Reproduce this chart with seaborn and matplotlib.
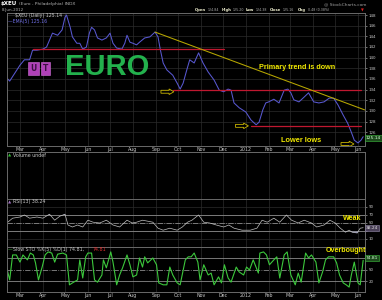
import numpy as np
import pandas as pd
import matplotlib
matplotlib.use("Agg")
import matplotlib.pyplot as plt
import matplotlib.dates as mdates
import matplotlib.patches as mpatches
import seaborn as sns

# ---------------- data ----------------
price_dates = ["2011-02-11", "2011-02-15", "2011-03-01", "2011-03-07", "2011-03-14", "2011-03-18",
               "2011-03-24", "2011-04-01", "2011-04-06", "2011-04-14", "2011-04-21", "2011-04-27",
               "2011-05-01", "2011-05-03", "2011-05-08", "2011-05-11", "2011-05-17", "2011-05-21",
               "2011-05-25", "2011-05-30", "2011-06-03", "2011-06-06", "2011-06-10", "2011-06-14",
               "2011-06-20", "2011-06-26", "2011-07-01", "2011-07-05", "2011-07-10", "2011-07-17",
               "2011-07-21", "2011-07-24", "2011-07-28", "2011-08-01", "2011-08-06", "2011-08-10",
               "2011-08-17", "2011-08-24", "2011-08-31", "2011-09-04", "2011-09-07", "2011-09-11",
               "2011-09-16", "2011-09-24", "2011-09-30", "2011-10-04", "2011-10-08", "2011-10-13",
               "2011-10-17", "2011-10-23", "2011-10-29", "2011-11-04", "2011-11-11", "2011-11-19",
               "2011-11-26", "2011-12-02", "2011-12-08", "2011-12-12", "2011-12-16", "2011-12-23",
               "2012-01-01", "2012-01-08", "2012-01-15", "2012-01-19", "2012-01-24", "2012-01-28",
               "2012-02-01", "2012-02-08", "2012-02-15", "2012-02-22", "2012-02-27", "2012-03-02",
               "2012-03-06", "2012-03-13", "2012-03-20", "2012-03-26", "2012-04-02", "2012-04-09",
               "2012-04-16", "2012-04-23", "2012-04-29", "2012-05-05", "2012-05-12", "2012-05-18",
               "2012-05-23", "2012-05-27", "2012-06-01", "2012-06-05", "2012-06-08"]
price_values = [136.2, 135.6, 138.6, 139.6, 139.6, 141.4,
                141.4, 141.6, 142.0, 144.6, 144.2, 145.2,
                147.6, 148.0, 145.7, 143.9, 142.7, 142.7,
                141.6, 142.0, 144.6, 145.7, 145.2, 143.7,
                143.3, 143.7, 144.6, 142.7, 141.8, 141.6,
                142.7, 144.2, 142.9, 142.7, 142.4, 142.9,
                143.7, 143.9, 144.8, 143.9, 141.6, 139.0,
                137.7, 136.7, 135.2, 134.1, 135.2, 137.7,
                139.6, 139.0, 140.9, 139.0, 137.3, 135.8,
                133.9, 133.6, 134.1, 133.9, 131.5, 130.6,
                129.8, 128.3, 127.4, 127.9, 130.2, 131.5,
                131.7, 132.2, 131.5, 133.9, 134.1, 133.4,
                132.1, 131.7, 132.6, 133.4, 131.7, 131.5,
                131.7, 132.4, 132.4, 131.1, 129.2, 127.7,
                126.0, 124.5, 124.0, 124.5, 125.16]

rsi_dates = ["2011-02-11", "2011-02-19", "2011-03-01", "2011-03-07", "2011-03-14", "2011-03-24",
             "2011-04-01", "2011-04-10", "2011-04-17", "2011-04-24", "2011-05-01", "2011-05-05",
             "2011-05-11", "2011-05-18", "2011-05-25", "2011-06-01", "2011-06-08", "2011-06-17",
             "2011-06-26", "2011-07-05", "2011-07-14", "2011-07-24", "2011-07-31", "2011-08-06",
             "2011-08-14", "2011-08-28", "2011-09-04", "2011-09-11", "2011-09-20", "2011-09-30",
             "2011-10-07", "2011-10-14", "2011-10-20", "2011-10-29", "2011-11-05", "2011-11-13",
             "2011-11-22", "2011-12-02", "2011-12-09", "2011-12-16", "2011-12-27", "2012-01-07",
             "2012-01-16", "2012-01-23", "2012-01-30", "2012-02-08", "2012-02-16", "2012-02-25",
             "2012-03-03", "2012-03-12", "2012-03-20", "2012-03-30", "2012-04-06", "2012-04-16",
             "2012-04-24", "2012-05-01", "2012-05-08", "2012-05-15", "2012-05-20", "2012-05-24",
             "2012-05-31", "2012-06-04", "2012-06-08"]
rsi_values = [50, 62, 65, 70, 62, 65,
              62, 72, 57, 67, 72, 45,
              40, 45, 40, 57, 52, 50,
              57, 45, 40, 57, 50, 52,
              57, 52, 37, 32, 37, 32,
              40, 52, 57, 70, 52, 50,
              45, 40, 45, 37, 32, 32,
              37, 57, 52, 62, 52, 70,
              57, 50, 57, 50, 40, 45,
              57, 50, 37, 27, 32, 27,
              25, 37, 38.24]

sto_dates = ["2011-02-11", "2011-02-15", "2011-02-19", "2011-02-24", "2011-03-01", "2011-03-05",
             "2011-03-11", "2011-03-15", "2011-03-19", "2011-03-22", "2011-03-26", "2011-03-31",
             "2011-04-04", "2011-04-08", "2011-04-13", "2011-04-17", "2011-04-21", "2011-04-28",
             "2011-05-03", "2011-05-07", "2011-05-11", "2011-05-18", "2011-05-21", "2011-05-25",
             "2011-05-29", "2011-06-01", "2011-06-06", "2011-06-10", "2011-06-14", "2011-06-20",
             "2011-06-22", "2011-06-26", "2011-07-02", "2011-07-05", "2011-07-10", "2011-07-14",
             "2011-07-18", "2011-07-24", "2011-07-28", "2011-08-01", "2011-08-06", "2011-08-10",
             "2011-08-14", "2011-08-17", "2011-08-21", "2011-08-28", "2011-09-02", "2011-09-05",
             "2011-09-11", "2011-09-16", "2011-09-20", "2011-09-24", "2011-09-30", "2011-10-04",
             "2011-10-11", "2011-10-15", "2011-10-19", "2011-10-23", "2011-10-28", "2011-10-31",
             "2011-11-05", "2011-11-11", "2011-11-15", "2011-11-19", "2011-11-25", "2011-11-29",
             "2011-12-03", "2011-12-08", "2011-12-12", "2011-12-19", "2011-12-23", "2011-12-29",
             "2012-01-02", "2012-01-06", "2012-01-11", "2012-01-18", "2012-01-20", "2012-01-25",
             "2012-01-29", "2012-02-02", "2012-02-08", "2012-02-12", "2012-02-16", "2012-02-22",
             "2012-02-26", "2012-03-02", "2012-03-08", "2012-03-12", "2012-03-16", "2012-03-22",
             "2012-03-26", "2012-03-30", "2012-04-05", "2012-04-09", "2012-04-14", "2012-04-18",
             "2012-04-22", "2012-04-29", "2012-05-03", "2012-05-07", "2012-05-12", "2012-05-16",
             "2012-05-20", "2012-05-23", "2012-05-27", "2012-06-01", "2012-06-04", "2012-06-08"]
sto_values = [55, 23, 89, 89, 70, 89,
              76, 94, 89, 68, 23, 57,
              89, 97, 94, 70, 91, 94,
              89, 10, 15, 23, 76, 28,
              84, 94, 94, 23, 17, 36,
              76, 55, 97, 70, 10, 36,
              55, 89, 63, 31, 36, 81,
              57, 84, 68, 81, 63, 15,
              10, 10, 57, 36, 15, 10,
              76, 84, 84, 94, 70, 23,
              63, 36, 41, 10, 31, 15,
              63, 28, 17, 57, 44, 36,
              57, 49, 76, 41, 94, 97,
              89, 63, 76, 84, 28, 89,
              97, 36, 10, 41, 17, 94,
              81, 89, 70, 15, 44, 76,
              84, 84, 68, 36, 15, 10,
              4, 36, 70, 15, 10, 74.81]

support_levels = [141.6, 134.0, 127.2]
support_starts = ["2011-03-18", "2011-09-24", "2012-01-08"]
support_ends = ["2011-12-02", "2012-06-05", "2012-06-05"]

trend_dates = ["2011-08-31", "2012-06-10"]
trend_values = [144.8, 130.2]

arrow_starts = ["2011-09-08", "2011-12-18", "2012-05-09"]
arrow_values = [133.6, 127.2, 123.8]

month_ticks = pd.date_range("2011-03-01", "2012-06-01", freq="MS")
month_labels = ["Mar", "Apr", "May", "Jun", "Jul", "Aug", "Sep", "Oct", "Nov", "Dec",
                "2012", "Feb", "Mar", "Apr", "May", "Jun"]
price_ticks = list(range(126, 149, 2))
rsi_ticks = [10, 30, 50, 70, 90]
rsi_tick_labels = ["10", "", "50", "70", "90"]
rsi_levels = [30, 70]
sto_ticks = [20, 50, 80]
sto_tick_labels = ["20", "50", ""]
sto_levels = [20, 80]

# ---------------- style ----------------
sns.set_style("dark")
plt.rcParams.update({
    "figure.facecolor": "black",
    "axes.facecolor": "black",
    "axes.edgecolor": "#6a6a6a",
    "text.color": "#d0d0d0",
    "xtick.color": "#c8c8c8",
    "ytick.color": "#c8c8c8",
    "font.family": ["DejaVu Sans"],
})

W, H = 382, 300
fig = plt.figure(figsize=(W / 100, H / 100), dpi=100)


def rect(l, t, r, b):
    return [l / W, 1 - b / H, (r - l) / W, (b - t) / H]


def ftext(x, y, s, **kw):
    kw.setdefault("va", "center")
    kw.setdefault("ha", "left")
    return fig.text(x / W, 1 - y / H, s, **kw)


xmin = pd.Timestamp("2011-02-11 09:00")
xmax = pd.Timestamp("2012-06-10 12:00")

ax_p = fig.add_axes(rect(7, 13, 365, 146))
ax_v = fig.add_axes(rect(7, 152, 365, 199))
ax_r = fig.add_axes(rect(7, 199, 365, 247))
ax_s = fig.add_axes(rect(7, 247, 365, 292))

for ax in (ax_p, ax_v, ax_r, ax_s):
    ax.set_facecolor("black")
    ax.set_xlim(xmin, xmax)
    for sp in ax.spines.values():
        sp.set_color("#6a6a6a")
        sp.set_linewidth(0.7)
    ax.set_xticks(month_ticks)
    ax.grid(True, axis="x", color="#2c2c2c", linewidth=0.5)
    ax.yaxis.tick_right()
    ax.tick_params(axis="y", labelsize=2.9, length=1.2, width=0.4, pad=1.2, colors="#c8c8c8")
    ax.tick_params(axis="x", labelsize=3.4, length=0, pad=0.6, colors="#c8c8c8")
    ax.set_xlabel("")
    ax.set_ylabel("")
    ax.set_axisbelow(True)

for ax in (ax_p, ax_s):
    ax.set_xticklabels(month_labels)
for ax in (ax_v, ax_r):
    ax.set_xticklabels([])

# ---- price panel ----
pdf = pd.DataFrame({"date": pd.to_datetime(price_dates), "price": price_values})
ax_p.set_ylim(123.42, 148.38)
ax_p.set_yticks(price_ticks)
ax_p.set_yticklabels([str(t) for t in price_ticks])
ax_p.grid(True, axis="y", color="#2c2c2c", linewidth=0.5)
sns.lineplot(data=pdf, x="date", y="price", ax=ax_p, color="#5858d0", linewidth=0.75, estimator=None)
ax_p.set_xlabel("")
ax_p.set_ylabel("")

for lvl, s, e in zip(support_levels, support_starts, support_ends):
    ax_p.plot([pd.Timestamp(s), pd.Timestamp(e)], [lvl, lvl], color="#c01830", linewidth=0.9)

ax_p.plot(pd.to_datetime(trend_dates), trend_values, color="#b8a800", linewidth=0.75)

for s, v in zip(arrow_starts, arrow_values):
    x0 = mdates.date2num(pd.Timestamp(s))
    arr = mpatches.FancyArrow(x0, v, 17.5, 0, width=0.55, head_width=1.05, head_length=6.5,
                              length_includes_head=True, fill=False, edgecolor="#c8b400",
                              linewidth=0.6)
    ax_p.add_patch(arr)

ax_p.text(0.162, 0.592, "EURO", transform=ax_p.transAxes, color="#23b14d", fontsize=21,
          fontweight="bold", family=["Liberation Sans", "DejaVu Sans"], ha="left", va="center")
ax_p.text(0.074, 0.582, "U", transform=ax_p.transAxes, color="#3a1040", fontsize=5.5,
          fontweight="bold", ha="center", va="center",
          bbox=dict(boxstyle="square,pad=0.25", fc="#b040b8", ec="#d070d8", lw=0.4))
ax_p.text(0.108, 0.582, "T", transform=ax_p.transAxes, color="#3a1040", fontsize=5.5,
          fontweight="bold", ha="center", va="center",
          bbox=dict(boxstyle="square,pad=0.25", fc="#b040b8", ec="#d070d8", lw=0.4))

ftext(259, 67, "Primary trend is down", color="#f0e800", fontsize=5.2, fontweight="bold",
      family=["Liberation Sans", "DejaVu Sans"])
ftext(281, 140, "Lower lows", color="#f0e800", fontsize=5.3, fontweight="bold",
      family=["Liberation Sans", "DejaVu Sans"])

# ---- volume panel ----
ax_v.set_ylim(0, 1)
ax_v.set_yticks([])

# ---- RSI panel ----
rdf = pd.DataFrame({"date": pd.to_datetime(rsi_dates), "rsi": rsi_values})
ax_r.set_ylim(-10, 110)
ax_r.set_yticks(rsi_ticks)
ax_r.set_yticklabels(rsi_tick_labels)
ax_r.grid(True, axis="y", color="#2c2c2c", linewidth=0.5)
for lvl in rsi_levels:
    ax_r.axhline(lvl, color="#8a8a8a", linewidth=0.6)
ax_r.axhline(50, color="#8a8a8a", linewidth=0.6, linestyle="-.")
r = np.array(rsi_values, dtype=float)
ax_r.fill_between(rdf["date"], r, 30, where=r < 30, interpolate=True, color="#8484c8", linewidth=0)
ax_r.fill_between(rdf["date"], r, 70, where=r > 70, interpolate=True, color="#8484c8", linewidth=0)
sns.lineplot(data=rdf, x="date", y="rsi", ax=ax_r, color="#c0c0c0", linewidth=0.5, estimator=None)
ax_r.set_xlabel("")
ax_r.set_ylabel("")
ftext(343, 218, "Weak", color="#f0e800", fontsize=5.1, fontweight="bold",
      family=["Liberation Sans", "DejaVu Sans"])

# ---- STO panel ----
sdf = pd.DataFrame({"date": pd.to_datetime(sto_dates), "sto": sto_values})
ax_s.set_ylim(-9, 110)
ax_s.set_yticks(sto_ticks)
ax_s.set_yticklabels(sto_tick_labels)
for lvl in sto_levels:
    ax_s.axhline(lvl, color="#8a8a8a", linewidth=0.6)
ax_s.axhline(50, color="#8a8a8a", linewidth=0.6, linestyle="-.")
sns.lineplot(data=sdf, x="date", y="sto", ax=ax_s, color="#3cc83c", linewidth=0.8, estimator=None)
ax_s.set_xlabel("")
ax_s.set_ylabel("")
ftext(326, 250, "Overbought", color="#f0e800", fontsize=5.1, fontweight="bold",
      family=["Liberation Sans", "DejaVu Sans"])

# ---- right-side value boxes ----
box_kw = dict(fontsize=3.2, ha="left", va="center")
ftext(366, 138, "125.14", color="#d8ffd8",
      bbox=dict(boxstyle="square,pad=0.2", fc="#1c4a1c", ec="#40c040", lw=0.4), **box_kw)
ftext(366, 228, "38.24", color="#e0e0e0",
      bbox=dict(boxstyle="square,pad=0.2", fc="#4a4058", ec="#9a90b0", lw=0.4), **box_kw)
ftext(366, 258, "74.81", color="#d8ffd8",
      bbox=dict(boxstyle="square,pad=0.2", fc="#1c4a1c", ec="#40c040", lw=0.4), **box_kw)

# ---- header and legends ----
ftext(0.5, 4, "$XEU", color="white", fontsize=4.0, fontweight="bold")
ftext(19, 4.5, "(Euro - Philadelphia) INDX", color="#b0b0b0", fontsize=3.2)
ftext(2, 10, "8-Jun-2012", color="#b0b0b0", fontsize=2.9)
ftext(324, 4.5, "@ StockCharts.com", color="#a0a0a0", fontsize=3.2)

hdr = [("Open", 195, True), ("124.84", 207.5, False), ("High", 222, True), ("125.20", 232.5, False),
       ("Low", 246, True), ("124.38", 255.5, False), ("Close", 270, True), ("125.16", 283, False),
       ("Chg", 298, True), ("0.48 (0.38%)", 308, False)]
for s, x, b in hdr:
    ftext(x, 10, s, color="#f0f0d0" if b else "#b0b0b0", fontsize=2.7 if b else 2.3,
          fontweight="bold" if b else "normal")
ftext(361, 10, "\u25bc", color="#e02020", fontsize=2.6)

ftext(15, 16, "$XEU (Daily) 125.14", color="#c8c8c8", fontsize=3.3)
ftext(8, 21, "\u2014EMA(5) 125.16", color="#7070e8", fontsize=3.3)
ftext(8, 155, "\u25b2", color="#30c030", fontsize=3.0)
ftext(13, 155, "Volume undef", color="#c8c8c8", fontsize=3.4)
ftext(8, 202, "\u25b2", color="#a070c0", fontsize=3.0)
ftext(13, 202, "RSI(13) 38.24", color="#c8c8c8", fontsize=3.4)
ftext(8, 249.5, "\u2014", color="#40c040", fontsize=3.4)
ftext(13, 249.5, "Slow STO %K(5) %D(1) 74.81,", color="#c8c8c8", fontsize=3.4)
ftext(93, 249.5, "74.81", color="#e03030", fontsize=3.4)

fig.savefig("out.png", dpi=100, facecolor="black")
